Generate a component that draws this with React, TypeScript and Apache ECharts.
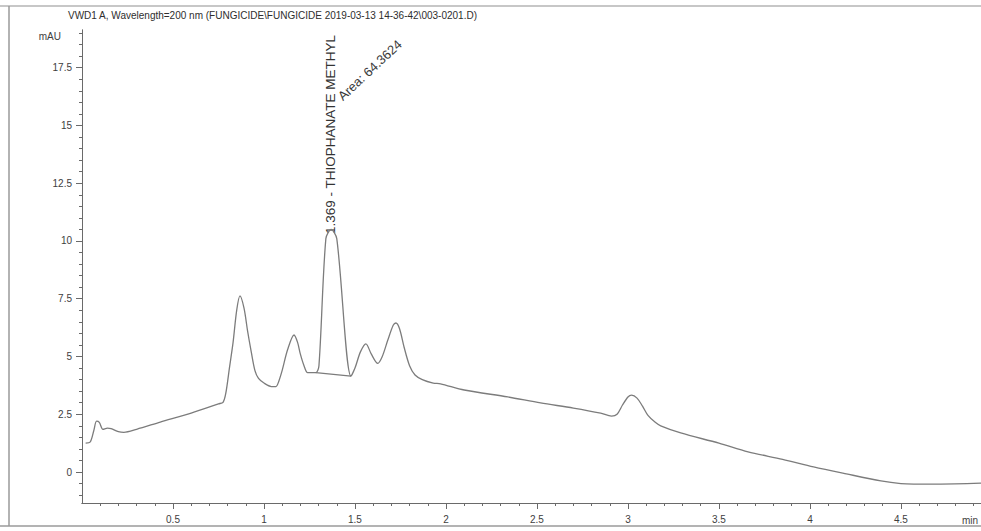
import React, { useEffect, useRef } from "react";
import * as echarts from "echarts";

// Retention time (min) and detector signal (mAU) of the VWD1 A trace
const retentionTimes = [
  0.02, 0.045, 0.065, 0.08, 0.095, 0.115, 0.14, 0.16, 0.2, 0.23, 0.3, 0.43, 0.6, 0.75, 0.775,
  0.79, 0.81, 0.83, 0.85, 0.868, 0.89, 0.91, 0.93, 0.95, 0.97, 1.0, 1.04, 1.066, 1.08, 1.1,
  1.13, 1.165, 1.185, 1.2, 1.22, 1.24, 1.285, 1.302, 1.34, 1.369, 1.4, 1.478, 1.5, 1.53,
  1.56, 1.59, 1.625, 1.65, 1.68, 1.71, 1.725, 1.745, 1.77, 1.8, 1.83, 1.87, 1.93, 1.97,
  2.1, 2.34, 2.52, 2.7, 2.85, 2.91, 2.94, 2.97, 3.0, 3.02, 3.05, 3.08, 3.11, 3.15, 3.18,
  3.29, 3.5, 3.66, 3.85, 4.02, 4.2, 4.39, 4.5, 4.57, 4.7, 4.94,
];
const absorbance = [
  1.25, 1.3, 1.8, 2.2, 2.15, 1.85, 1.9, 1.88, 1.75, 1.72, 1.85, 2.16, 2.55, 2.95, 3.02,
  3.4, 4.5, 5.6, 7.0, 7.62, 7.1, 6.1, 5.2, 4.4, 4.05, 3.85, 3.7, 3.7, 3.9, 4.4,
  5.3, 5.93, 5.6, 5.1, 4.6, 4.3, 4.3, 4.6, 10.1, 10.5, 10.1, 4.15, 4.5, 5.2,
  5.55, 5.1, 4.7, 5.0, 5.7, 6.35, 6.45, 6.2, 5.4, 4.6, 4.2, 4.0, 3.85, 3.82,
  3.55, 3.25, 2.99, 2.77, 2.55, 2.42, 2.5, 2.9, 3.25, 3.33, 3.2, 2.85, 2.45, 2.15, 2.0,
  1.69, 1.25, 0.87, 0.55, 0.22, -0.08, -0.38, -0.5, -0.52, -0.52, -0.48,
];

// Integration baseline under the thiophanate-methyl peak
const baselineTimes = [1.285, 1.478];
const baselineValues = [4.3, 4.15];

// Axis ticks
const yMajorTicks = [0, 2.5, 5, 7.5, 10, 12.5, 15, 17.5];
const xMajorTicks = [0.5, 1, 1.5, 2, 2.5, 3, 3.5, 4, 4.5];

const Y_MIN = -1.34;
const Y_MAX = 19.13;
const X_MIN = 0;
const X_MAX = 4.94;

const peakLabel = "1.369 - THIOPHANATE METHYL";
const areaLabel = "Area: 64.3624";
const titleText =
  "VWD1 A, Wavelength=200 nm (FUNGICIDE\\FUNGICIDE 2019-03-13 14-36-42\\003-0201.D)";

const FONT = "'Liberation Sans', Arial, sans-serif";
const LINE = "#7c7c7c";
const AXIS = "#6a6a6a";
const TEXT = "#3e3e3e";

function steps(from: number, to: number, step: number): number[] {
  const out: number[] = [];
  for (let v = from; v <= to + 1e-9; v += step) out.push(Math.round(v * 100) / 100);
  return out;
}

export default function App() {
  const ref = useRef<HTMLDivElement>(null);

  useEffect(() => {
    if (!ref.current) return;
    const chart = echarts.init(ref.current, undefined, { renderer: "svg" });

    const trace = retentionTimes.map((t, i) => [t, absorbance[i]]);
    const baseline = baselineTimes.map((t, i) => [t, baselineValues[i]]);

    const axisLineStyle = { color: AXIS, width: 1 };

    // Major ticks are long, the 0.1 min / 0.5 mAU ones short; one axis per length
    chart.setOption({
      animation: false,
      backgroundColor: "#ffffff",
      grid: { left: 82, right: 0, top: 30, bottom: 28, containLabel: false },
      xAxis: [
        {
          type: "value",
          min: X_MIN,
          max: X_MAX,
          position: "bottom",
          axisLine: { show: true, onZero: false, lineStyle: axisLineStyle },
          axisTick: {
            show: true,
            length: 3,
            customValues: steps(0.1, 4.9, 0.1),
            lineStyle: axisLineStyle,
          },
          axisLabel: {
            show: true,
            customValues: xMajorTicks,
            formatter: (v: number) => String(v),
            color: TEXT,
            fontFamily: FONT,
            fontSize: 10,
            margin: 11,
          },
          splitLine: { show: false },
        },
        {
          type: "value",
          min: X_MIN,
          max: X_MAX,
          position: "bottom",
          offset: 0,
          axisLine: { show: true, onZero: false, lineStyle: axisLineStyle },
          axisTick: {
            show: true,
            length: 6,
            customValues: xMajorTicks,
            lineStyle: axisLineStyle,
          },
          axisLabel: { show: false },
          splitLine: { show: false },
        },
      ],
      yAxis: [
        {
          type: "value",
          min: Y_MIN,
          max: Y_MAX,
          position: "left",
          axisLine: { show: true, onZero: false, lineStyle: axisLineStyle },
          axisTick: {
            show: true,
            length: 3,
            customValues: steps(-1, 19, 0.5),
            lineStyle: axisLineStyle,
          },
          axisLabel: {
            show: true,
            customValues: yMajorTicks,
            formatter: (v: number) => String(v),
            color: TEXT,
            fontFamily: FONT,
            fontSize: 10,
            margin: 10,
          },
          splitLine: { show: false },
        },
        {
          type: "value",
          min: Y_MIN,
          max: Y_MAX,
          position: "left",
          offset: 0,
          axisLine: { show: true, onZero: false, lineStyle: axisLineStyle },
          axisTick: {
            show: true,
            length: 6,
            customValues: yMajorTicks,
            lineStyle: axisLineStyle,
          },
          axisLabel: { show: false },
          splitLine: { show: false },
        },
      ],
      series: [
        {
          type: "line",
          data: trace,
          xAxisIndex: 0,
          yAxisIndex: 0,
          showSymbol: false,
          smooth: 0.3,
          lineStyle: { color: LINE, width: 1.3 },
          silent: true,
          clip: true,
        },
        {
          // the secondary axes share the primary ranges, so this lands on the same scale
          type: "line",
          data: baseline,
          xAxisIndex: 1,
          yAxisIndex: 1,
          showSymbol: false,
          lineStyle: { color: LINE, width: 1.2 },
          silent: true,
        },
      ],
      graphic: [
        // sheet border
        { type: "line", shape: { x1: 0, y1: 6, x2: 981, y2: 6 }, style: { stroke: "#b5b5b5", lineWidth: 1.5 } },
        { type: "line", shape: { x1: 9, y1: 6, x2: 9, y2: 526 }, style: { stroke: "#9a9a9a", lineWidth: 1.5 } },
        { type: "line", shape: { x1: 0, y1: 526, x2: 981, y2: 526 }, style: { stroke: "#9a9a9a", lineWidth: 1.5 } },
        {
          type: "text",
          x: 68,
          y: 15,
          style: { text: titleText, fill: "#2e2e2e", font: `10px ${FONT}`, textVerticalAlign: "middle" },
        },
        {
          type: "text",
          x: 61,
          y: 36,
          style: { text: "mAU", fill: TEXT, font: `10px ${FONT}`, textAlign: "right", textVerticalAlign: "middle" },
        },
        {
          type: "text",
          x: 962,
          y: 520,
          style: { text: "min", fill: TEXT, font: `10px ${FONT}`, textVerticalAlign: "middle" },
        },
        {
          type: "text",
          x: 330,
          y: 234,
          rotation: Math.PI / 2,
          style: { text: peakLabel, fill: "#333333", font: `13.5px ${FONT}`, textAlign: "left", textVerticalAlign: "middle" },
        },
        {
          type: "text",
          x: 340,
          y: 98,
          rotation: (43 * Math.PI) / 180,
          style: { text: areaLabel, fill: "#3a3a3a", font: `13px ${FONT}`, textAlign: "left", textVerticalAlign: "middle" },
        },
      ],
    });

    return () => chart.dispose();
  }, []);

  return (
    <div
      ref={ref}
      style={{ position: "fixed", left: 0, top: 0, width: 981, height: 531, background: "#fff" }}
    />
  );
}
